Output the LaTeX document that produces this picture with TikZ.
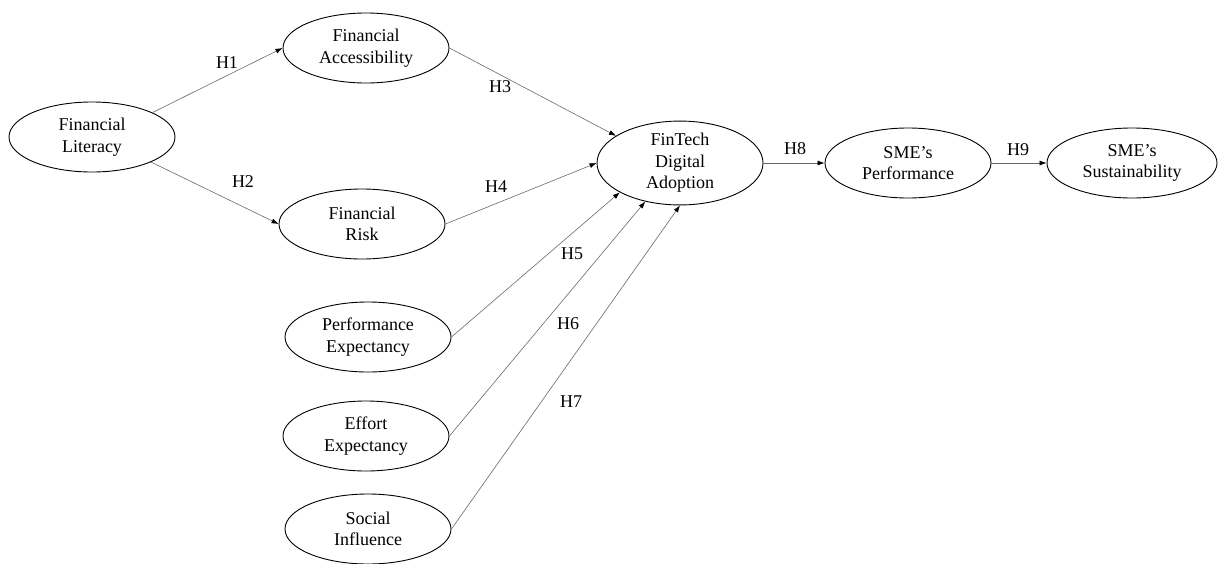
\documentclass[tikz,border=0pt]{standalone}
\usepackage{fontspec}
\setmainfont{Liberation Serif}
\usetikzlibrary{shapes.geometric,arrows.meta}
\begin{document}
\begin{tikzpicture}[x=1pt,y=-1pt,
  construct/.style={ellipse,draw=black,line width=0.9pt,minimum width=166pt,minimum height=70pt,inner sep=0pt,align=center,font=\fontsize{18}{21.5}\selectfont},
  hyp/.style={inner sep=0pt,font=\fontsize{18}{20}\selectfont},
  link/.style={draw={rgb,255:red,105;green,105;blue,105},line width=0.6pt,-{Latex[length=7pt,width=5pt,color=black]}}]
\useasboundingbox (0,0) rectangle (1219,563);
\node[construct] (fl) at (92,137) {Financial\\Literacy};
\node[construct] (fa) at (366,48) {Financial\\Accessibility};
\node[construct] (fr) at (362,224) {Financial\\Risk};
\node[construct] (fd) at (680,163) {FinTech\\Digital\\Adoption};
\node[construct] (sp) at (908,163) {SME’s\\Performance};
\node[construct,minimum width=170pt] (ss) at (1132,163) {SME’s\\Sustainability};
\node[construct] (pe) at (368,337) {Performance\\Expectancy};
\node[construct] (ee) at (366,436) {Effort\\Expectancy};
\node[construct] (si) at (368,529) {Social\\Influence};
\draw[link] (fl.22.6) -- (fa.west);
\draw[link] (fl.-23) -- (fr.west);
\draw[link] (fa.east) -- (fd.157);
\draw[link] (fr.east) -- (fd.west);
\draw[link] (pe.east) -- (fd.206);
\draw[link] (ee.east) -- (fd.228);
\draw[link] (si.east) -- (fd.south);
\draw[link] (fd.east) -- (sp.west);
\draw[link] (sp.east) -- (ss.west);
\node[hyp] (h1) at (227,63) {H1};
\node[hyp] (h2) at (243,182) {H2};
\node[hyp] (h3) at (500,87) {H3};
\node[hyp] (h4) at (496,187) {H4};
\node[hyp] (h5) at (572,254) {H5};
\node[hyp] (h6) at (568,324) {H6};
\node[hyp] (h7) at (571,402) {H7};
\node[hyp] (h8) at (795,149) {H8};
\node[hyp] (h9) at (1018,150) {H9};
\end{tikzpicture}
\end{document}
